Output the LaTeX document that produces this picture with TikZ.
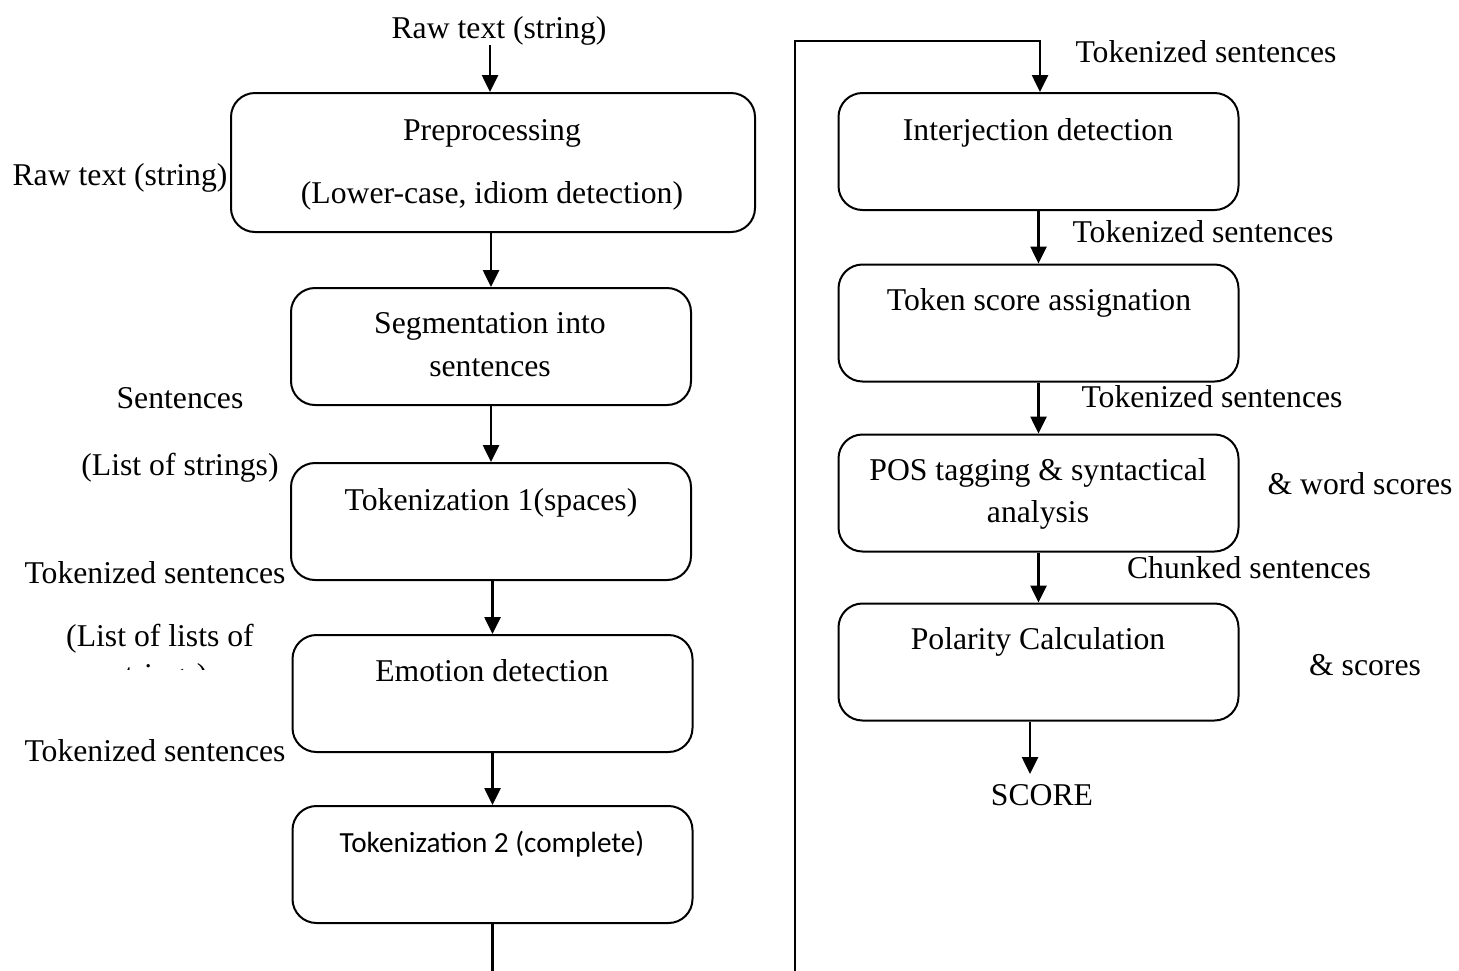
\documentclass[tikz,border=0pt]{standalone}
\usepackage{fontspec}
\setmainfont{Liberation Serif}
\newfontfamily\calib{Carlito}
\usetikzlibrary{arrows.meta}
\begin{document}
\begin{tikzpicture}[x=1pt,y=-1pt,
  box/.style={draw, line width=2pt, rounded corners=24pt, inner sep=0pt, minimum width=400pt, minimum height=117pt},
  lbl/.style={anchor=base, inner sep=0pt, font=\fontsize{31.7}{38}\selectfont},
  arr/.style={line width=2.6pt, -{Triangle[width=16pt,length=17pt]}}]
\useasboundingbox (0,0) rectangle (1459,970);
\clip (0,0) rectangle (1459,970);
% left column boxes
\node[box, minimum width=524pt, minimum height=139pt] (pre) at (493,162.5) {};
\node[box] (seg) at (491,346.5) {};
\node[box] (tokone) at (491,521.5) {};
\node[box] (emo) at (492.5,693.5) {};
\node[box] (toktwo) at (492.5,864.5) {};
% right column boxes
\node[box] (inter) at (1038.5,151.5) {};
\node[box] (toksc) at (1038.5,323) {};
\node[box] (pos) at (1038.5,493) {};
\node[box] (pol) at (1038.5,662) {};
% box texts
\node[lbl] (tpre1) at (492,140) {Preprocessing};
\node[lbl] (tpre2) at (492,203) {(Lower-case, idiom detection)};
\node[lbl] (tseg1) at (490,333) {Segmentation into};
\node[lbl] (tseg2) at (490,376) {sentences};
\node[lbl] (ttok1) at (491,510) {Tokenization 1(spaces)};
\node[lbl] (temo) at (492,681) {Emotion detection};
\node[lbl, font=\calib\fontsize{29.2}{35}\selectfont] (ttok2) at (492,852) {Tokenization 2 (complete)};
\node[lbl] (tint) at (1038,140) {Interjection detection};
\node[lbl] (tsc) at (1039,310) {Token score assignation};
\node[lbl] (tpos1) at (1038,480) {POS tagging \& syntactical};
\node[lbl] (tpos2) at (1038,522) {analysis};
\node[lbl] (tpol) at (1038,649) {Polarity Calculation};
% side labels
\node[lbl] (raw) at (499,38) {Raw text (string)};
\node[lbl] (rawl) at (120,185) {Raw text (string)};
\node[lbl] (sent) at (180,408) {Sentences};
\node[lbl] (los) at (180,475) {(List of strings)};
\node[lbl] (tsa) at (155,583) {Tokenized sentences};
\node[lbl] (lol) at (160,646) {(List of lists of};
\begin{scope}
\clip (0,600) rectangle (320,669);
\node[lbl] (str) at (160,685) {strings)};
\end{scope}
\node[lbl] (tsb) at (155,761) {Tokenized sentences};
\node[lbl] (tsc1) at (1206,62) {Tokenized sentences};
\node[lbl] (tsc2) at (1203,242) {Tokenized sentences};
\node[lbl] (tsc3) at (1212,407) {Tokenized sentences};
\node[lbl] (ws) at (1360,494) {\& word scores};
\node[lbl] (chk) at (1249,578) {Chunked sentences};
\node[lbl] (scs) at (1365,675) {\& scores};
\node[lbl] (score) at (1042,805) {SCORE};
% connectors
\coordinate (in) at (490,45);
\coordinate (bot) at (0,985);
\coordinate (cl) at (795,41);
\coordinate (cr) at (1040,41);
\coordinate (sc) at (1030,774);
\draw[arr] (in) -- (in |- pre.north);
\draw[arr] (seg.north |- pre.south) -- (seg.north);
\draw[arr] (seg.south) -- (tokone.north);
\draw[arr] (emo.north |- tokone.south) -- (emo.north);
\draw[arr] (emo.south) -- (toktwo.north);
\draw[arr] (toktwo.south) -- (toktwo.south |- bot) -| (cl) -- (cr) -- (cr |- inter.north);
\draw[arr] (inter.south) -- (toksc.north);
\draw[arr] (toksc.south) -- (pos.north);
\draw[arr] (pos.south) -- (pol.north);
\draw[arr] (pol.south -| sc) -- (sc);
\end{tikzpicture}
\end{document}
